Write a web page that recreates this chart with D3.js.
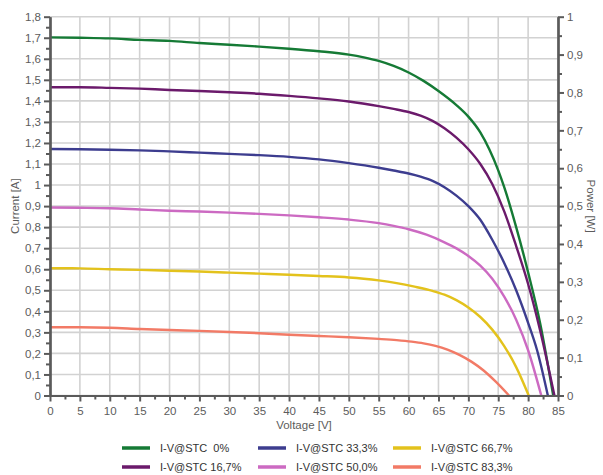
<!DOCTYPE html>
<html><head><meta charset="utf-8">
<script src="https://cdn.jsdelivr.net/npm/d3@7"></script>
<style>body{margin:0;background:#fff}svg{display:block}text{font-family:"Liberation Sans",Arial,sans-serif}</style>
</head><body><svg id="c" width="603" height="475"></svg>
<script>
const seriesNames = ["I-V@STC  0%","I-V@STC 16,7%","I-V@STC 33,3%","I-V@STC 50,0%","I-V@STC 66,7%","I-V@STC 83,3%"];
const seriesColors = ["#157a35","#6b1a6b","#3d3d8f","#cc6ac2","#e3c21c","#f27a66"];
const iv0 = [[0,1.702],[5,1.700],[10,1.697],[15,1.690],[20,1.685],[25,1.675],[30,1.667],[35,1.658],[40,1.648],[45,1.636],[50,1.620],[52.5,1.607],[55,1.590],[57.5,1.566],[60,1.535],[62.5,1.495],[65,1.447],[68,1.38],[70,1.325],[72,1.25],[73.5,1.17],[75,1.07],[76,0.99],[78,0.80],[80,0.585],[82,0.345],[84.2,0]];
const iv167 = [[0,1.465],[5,1.465],[10,1.462],[15,1.458],[20,1.452],[25,1.447],[30,1.441],[35,1.434],[40,1.424],[45,1.412],[50,1.397],[55,1.375],[57.5,1.362],[60,1.347],[62,1.33],[64,1.305],[66,1.27],[68,1.225],[70,1.17],[72,1.10],[74,1.005],[76,0.875],[78,0.71],[80,0.53],[82,0.31],[84.4,0]];
const iv333 = [[0,1.171],[5,1.170],[10,1.168],[15,1.165],[20,1.160],[25,1.154],[30,1.148],[35,1.142],[40,1.134],[45,1.122],[50,1.104],[55,1.082],[57.5,1.069],[60,1.055],[62,1.04],[64,1.02],[66,0.99],[68,0.95],[70,0.90],[72,0.835],[74,0.74],[76,0.63],[78,0.50],[80,0.345],[81.5,0.215],[83.3,0]];
const iv500 = [[0,0.893],[5,0.892],[10,0.890],[15,0.884],[20,0.878],[25,0.874],[30,0.869],[35,0.863],[40,0.856],[45,0.847],[50,0.836],[55,0.819],[57.5,0.806],[60,0.790],[63,0.764],[66,0.728],[68,0.699],[70,0.663],[72,0.617],[74,0.555],[76,0.47],[78,0.36],[80,0.215],[82.2,0]];
const iv667 = [[0,0.605],[5,0.604],[10,0.600],[15,0.597],[20,0.593],[25,0.589],[30,0.584],[35,0.579],[40,0.574],[45,0.568],[50,0.561],[52.5,0.555],[55,0.547],[58,0.534],[61,0.517],[64,0.497],[66,0.479],[68,0.453],[70,0.418],[72,0.373],[74,0.313],[76,0.235],[78,0.135],[80.1,0]];
const iv833 = [[0,0.324],[5,0.324],[10,0.322],[15,0.316],[20,0.311],[25,0.307],[30,0.302],[35,0.296],[40,0.289],[45,0.283],[50,0.277],[55,0.269],[58,0.263],[60.5,0.256],[62.5,0.248],[64.5,0.236],[66.5,0.218],[68.5,0.193],[70.5,0.161],[72.5,0.12],[74.5,0.068],[76.8,0]];
const seriesData = [iv0, iv167, iv333, iv500, iv667, iv833];
const xTicks = d3.range(0, 86, 5);
const yTicks = d3.range(0, 19).map(i => i/10);
const pTicks = d3.range(0, 11).map(i => i/10);

const svg = d3.select("#c");
const L = 50, R = 558, T = 16.7, B = 395.5;
const x = d3.scaleLinear().domain([0,85]).range([L,R]);
const y = d3.scaleLinear().domain([0,1.8]).range([B,T]);
const yp = d3.scaleLinear().domain([0,1]).range([B,T]);
const fmt = v => d3.format("~g")(+v.toFixed(2)).replace(".", ",");

const grid = svg.append("g").attr("stroke","#d2d2d2").attr("stroke-width",1.6);
xTicks.forEach(v => grid.append("line").attr("x1",x(v)).attr("x2",x(v)).attr("y1",T).attr("y2",B));
yTicks.forEach(v => grid.append("line").attr("x1",L).attr("x2",R).attr("y1",y(v)).attr("y2",y(v)));

const line = d3.line().curve(d3.curveMonotoneX).x(d => x(d[0])).y(d => y(d[1]));
seriesData.forEach((s,i) => svg.append("path").attr("d", line(s)).attr("fill","none")
  .attr("stroke", seriesColors[i]).attr("stroke-width",2.4).attr("stroke-linejoin","round"));

const axCol = "#5a5a5a", txtCol = "#5c5c5c";
function style(g){
  g.select(".domain").attr("stroke",axCol).attr("stroke-width",2.2);
  g.selectAll(".tick line").attr("stroke",axCol).attr("stroke-width",2);
  g.selectAll(".tick text").attr("fill",txtCol).attr("font-size",11.5);
}
const minorX = d3.range(2.5, 85, 5), minorY = d3.range(0.05, 1.8, 0.1), minorP = d3.range(0.05, 1, 0.1);
svg.append("g").attr("transform",`translate(0,${B})`).call(d3.axisBottom(x).tickValues(minorX).tickSize(4).tickFormat("").tickSizeOuter(0)).call(style);
svg.append("g").attr("transform",`translate(${L},0)`).call(d3.axisLeft(y).tickValues(minorY).tickSize(4).tickFormat("").tickSizeOuter(0)).call(style);
svg.append("g").attr("transform",`translate(${R},0)`).call(d3.axisRight(yp).tickValues(minorP).tickSize(4).tickFormat("").tickSizeOuter(0)).call(style);
svg.append("g").attr("transform",`translate(0,${B})`).call(d3.axisBottom(x).tickValues(xTicks).tickSize(6).tickPadding(5).tickFormat(fmt).tickSizeOuter(0)).call(style);
svg.append("g").attr("transform",`translate(${L},0)`).call(d3.axisLeft(y).tickValues(yTicks).tickSize(6).tickPadding(3).tickFormat(fmt).tickSizeOuter(0)).call(style);
svg.append("g").attr("transform",`translate(${R},0)`).call(d3.axisRight(yp).tickValues(pTicks).tickSize(6).tickPadding(3).tickFormat(fmt).tickSizeOuter(0)).call(style);

svg.append("text").attr("x",(L+R)/2).attr("y",429).attr("text-anchor","middle").attr("fill",txtCol).attr("font-size",11.5).text("Voltage [V]");
svg.append("text").attr("transform",`translate(19,${(T+B)/2}) rotate(-90)`).attr("text-anchor","middle").attr("fill",txtCol).attr("font-size",11.5).text("Current [A]");
svg.append("text").attr("transform",`translate(587,${(T+B)/2}) rotate(90)`).attr("text-anchor","middle").attr("fill",txtCol).attr("font-size",11.5).text("Power [W]");

const legX = [122, 258, 393], legY = [448, 467];
seriesNames.forEach((n,i) => {
  const col = Math.floor(i/2), row = i%2;
  const g = svg.append("g").attr("transform",`translate(${legX[col]},${legY[row]})`);
  g.append("line").attr("x1",0).attr("x2",28).attr("y1",0).attr("y2",0).attr("stroke",seriesColors[i]).attr("stroke-width",3.5);
  g.append("text").attr("x",38).attr("y",4).attr("fill","#333").attr("font-size",11).attr("xml:space","preserve").text(n);
});
</script></body></html>
